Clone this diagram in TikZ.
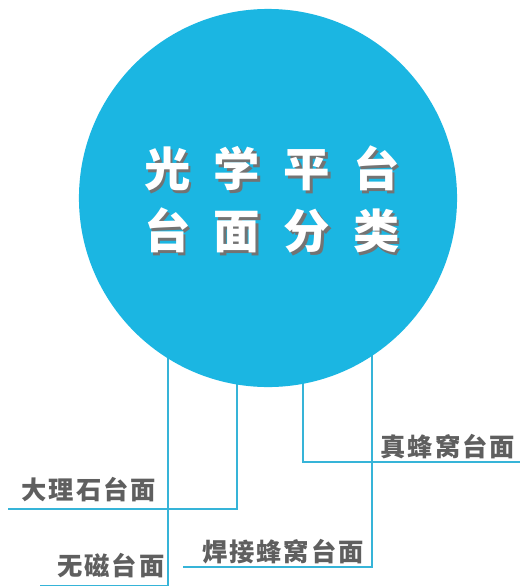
\documentclass[tikz,border=0pt]{standalone}
\usepackage{fontspec}
\usetikzlibrary{backgrounds}
\newfontfamily\cjkhead[LetterSpace=50]{Noto Sans CJK SC}
\newfontfamily\cjktag[LetterSpace=8]{Noto Sans CJK SC}
\newcommand{\headfont}{\cjkhead\bfseries\fontsize{33}{40}\selectfont}
\newcommand{\tagfont}{\cjktag\bfseries\fontsize{18}{22}\selectfont}
% white text with a soft drop shadow
\newcommand{\shadowed}[1]{\makebox[0pt][l]{\hspace{1.8pt}\raisebox{-1.8pt}{\textcolor{black!55}{#1}}}#1}
\definecolor{discblue}{RGB}{27,182,226}
\definecolor{leadcyan}{RGB}{54,180,216}
\definecolor{labelgray}{RGB}{95,95,95}
\begin{document}
\begin{tikzpicture}[
  x=0.025cm, y=-0.025cm,
  every node/.style={inner sep=0pt},
  lead/.style={draw=leadcyan, line width=2.1pt},
  tag/.style={font=\tagfont, text=labelgray},
  headline/.style={font=\headfont, text=white}
]
\useasboundingbox (0,0) rectangle (520,586);
\node[circle, fill=discblue, minimum size=9.45cm] (disc) at (268,198) {};
% title
\foreach \row/\yy/\txt in {one/170/光学平台,two/232/台面分类}{
  \node[headline] (title\row) at (272,\yy) {\shadowed{\txt}};
}
% branch labels
\node[tag] (marble) at (89,490) {大理石台面};
\node[tag] (honey) at (448,447) {真蜂窝台面};
\node[tag] (weld) at (283,552) {焊接蜂窝台面};
\node[tag] (nomag) at (111,566) {无磁台面};
\coordinate (marbleEnd) at (8,509);
\coordinate (honeyEnd) at (524,462);
\coordinate (weldEnd) at (183,567);
\coordinate (nomagEnd) at (40,586);
\begin{scope}[on background layer]
\draw[lead] (disc.center) ++(-100,0) |- (nomagEnd);
\draw[lead] (disc.center) ++(-31,0) |- (marbleEnd);
\draw[lead] (disc.center) ++(35,0) |- (honeyEnd);
\draw[lead] (disc.center) ++(104,0) |- (weldEnd);
\end{scope}
\end{tikzpicture}
\end{document}
